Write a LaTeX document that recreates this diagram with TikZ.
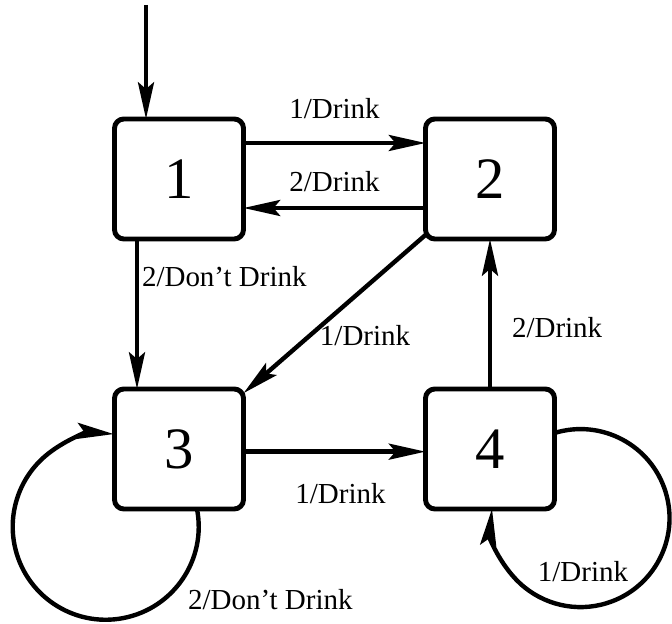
\documentclass[tikz,border=0pt]{standalone}
\usepackage{fontspec}
\setmainfont{Liberation Serif}
\usepackage{tikz}
\usetikzlibrary{arrows.meta,positioning,calc}

\begin{document}
\begin{tikzpicture}[
  x=0.75pt, y=0.75pt,
  state/.style={draw, line width=3.7pt, rounded corners=7pt, minimum width=96.75pt,
                minimum height=90pt, inner sep=0pt, font=\fontsize{44}{48}\selectfont},
  lbl/.style={inner sep=0pt, font=\fontsize{21.75}{24}\selectfont},
  trans/.style={line width=3.3pt, -{Stealth[length=27.5pt, width=12pt, inset=5pt]}},
  every node/.style={outer sep=0pt}
]
  \useasboundingbox (0,0) rectangle (672,624);

  % States
  \node[state] (n1) at (179,445) {1};
  \node[state, right=136.5pt of n1] (n2) {2};
  \node[state, below=112.5pt of n1] (n3) {3};
  \node[state, right=136.5pt of n3] (n4) {4};

  % Initial arrow
  \coordinate (init) at ([shift={(-33,114)}]n1.north);
  \draw[trans] (init) -- (init |- n1.north);

  % Transitions between states
  \draw[trans] ([yshift=27pt]n1.east) -- ([yshift=27pt]n2.west)
    node[lbl, midway, anchor=base, yshift=18pt] {1/Drink};
  \draw[trans] ([yshift=-21.75pt]n2.west) -- ([yshift=-21.75pt]n1.east)
    node[lbl, midway, anchor=base, yshift=12pt] {2/Drink};
  \draw[trans] ([xshift=-31.5pt]n1.south) -- ([xshift=-31.5pt]n3.north)
    node[lbl, pos=0.32, anchor=base west, xshift=3.75pt] {2/Don't Drink};
  \draw[trans] (n2) -- (n3)
    node[lbl, midway, anchor=base west, xshift=-10.9pt, yshift=-23.25pt] {1/Drink};
  \draw[trans] (n4.north) -- (n2.south)
    node[lbl, pos=0.34, anchor=base west, xshift=16.5pt] {2/Drink};
  \draw[trans] ([yshift=-2pt]n3.east) -- ([yshift=-2pt]n4.west)
    node[lbl, midway, anchor=base, xshift=4.5pt, yshift=-39pt] {1/Drink};

  % Self loops
  \draw[trans] ([xshift=13.5pt]n3.south) arc[start angle=11, end angle=-275, radius=93];
  \node[lbl, anchor=base west] (l3) at ([shift={(9,-161)}]n3.center) {2/Don't Drink};
  \draw[trans] ([yshift=12pt]n4.east) arc[start angle=107, end angle=-186, radius=89];
  \node[lbl, anchor=base] (l4) at ([shift={(93,-133)}]n4.center) {1/Drink};
\end{tikzpicture}
\end{document}
